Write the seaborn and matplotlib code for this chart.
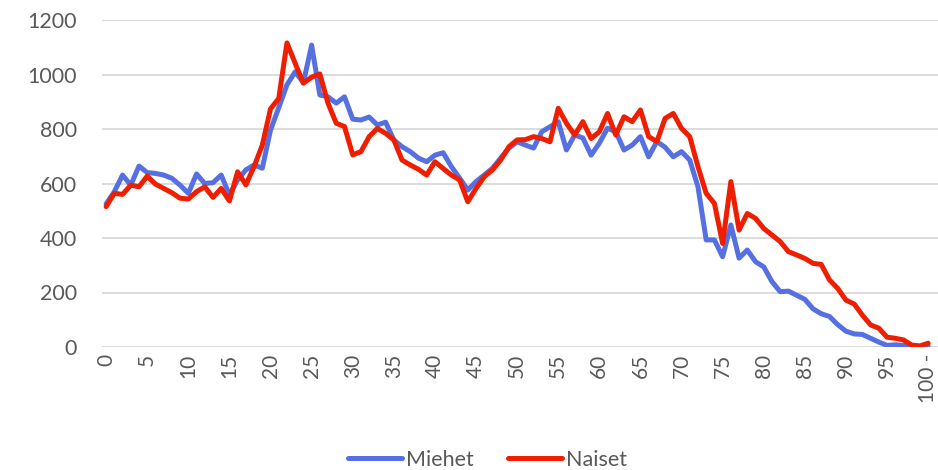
import pandas as pd
import matplotlib
matplotlib.use("Agg")
import matplotlib.pyplot as plt
import seaborn as sns

# ages 0..100 (last one is "100 -")
ages = list(range(0, 101))

miehet = [
    525, 570, 631, 594, 664, 640, 637, 631, 619, 594,
    564, 635, 600, 603, 631, 558, 613, 650, 668, 656,
    796, 878, 962, 1010, 970, 1108, 925, 918, 895, 918,
    836, 833, 844, 815, 825, 760, 735, 717, 693, 680,
    704, 713, 662, 620, 576, 607, 631, 656, 693, 730,
    753, 741, 730, 790, 808, 827, 723, 778, 767, 704,
    748, 803, 790, 723, 741, 772, 698, 754, 733, 698,
    717, 686, 588, 393, 393, 331, 448, 326, 356, 313,
    294, 240, 203, 205, 190, 175, 140, 122, 112, 82,
    58, 48, 46, 32, 18, 6, 8, 6, 2, 0,
    3,
]

naiset = [
    515, 564, 560, 594, 588, 627, 598, 582, 566, 546,
    543, 570, 588, 549, 582, 536, 643, 595, 662, 741,
    874, 912, 1116, 1041, 968, 990, 1002, 894, 821, 809,
    705, 717, 772, 802, 784, 760, 686, 668, 652, 631,
    680, 655, 631, 613, 533, 582, 625, 650, 686, 735,
    760, 761, 772, 765, 753, 876, 821, 778, 827, 765,
    790, 857, 778, 845, 827, 870, 772, 754, 839, 857,
    802, 772, 662, 564, 527, 380, 607, 429, 490, 472,
    435, 411, 387, 350, 338, 325, 307, 303, 246, 215,
    172, 158, 117, 81, 69, 36, 32, 26, 7, 4,
    14,
]

series_names = ["Miehet", "Naiset"]
tick_ages = list(range(0, 101, 5))
tick_labels = [str(a) for a in range(0, 100, 5)] + ["100 -"]

df = pd.DataFrame({
    "ika": ages * 2,
    "lkm": miehet + naiset,
    "sukupuoli": ["Miehet"] * len(ages) + ["Naiset"] * len(ages),
})

sns.set_style("white")
plt.rcParams["font.family"] = ["Lato", "DejaVu Sans"]

fig = plt.figure(figsize=(9.38, 4.70), dpi=100)
ax = fig.add_axes([102 / 938, 123 / 470, 836 / 938, 327 / 470])

sns.lineplot(data=df, x="ika", y="lkm", hue="sukupuoli",
             palette={"Miehet": "#5670E2", "Naiset": "#F01E00"},
             linewidth=3.6, ax=ax, legend=False)

ax.set_xlim(-0.5, 101.2)
ax.set_ylim(0, 1200)
ax.set_yticks(range(0, 1201, 200))
ax.set_xticks(tick_ages)
ax.set_xticklabels(tick_labels, rotation=90, va="top", ha="center")
ax.yaxis.grid(True, color="#d9d9d9", linewidth=1.3)
ax.set_axisbelow(True)
for s in ax.spines.values():
    s.set_visible(False)
ax.set_xlabel("")
ax.set_ylabel("")
ax.tick_params(axis="y", length=0, pad=18, labelsize=15.5, labelcolor="#595959")
ax.tick_params(axis="x", length=0, pad=5, labelsize=15, labelcolor="#595959")

handles = [plt.Line2D([], [], color="#5670E2", lw=3.6),
           plt.Line2D([], [], color="#F01E00", lw=3.6)]
leg = fig.legend(handles, series_names, loc="center", bbox_to_anchor=(0.52, 0.022),
                 ncol=2, frameon=False, handlelength=2.5, handletextpad=0.2,
                 columnspacing=1.6, fontsize=15.5)
for t in leg.get_texts():
    t.set_color("#595959")

fig.savefig("out.png", dpi=100)
